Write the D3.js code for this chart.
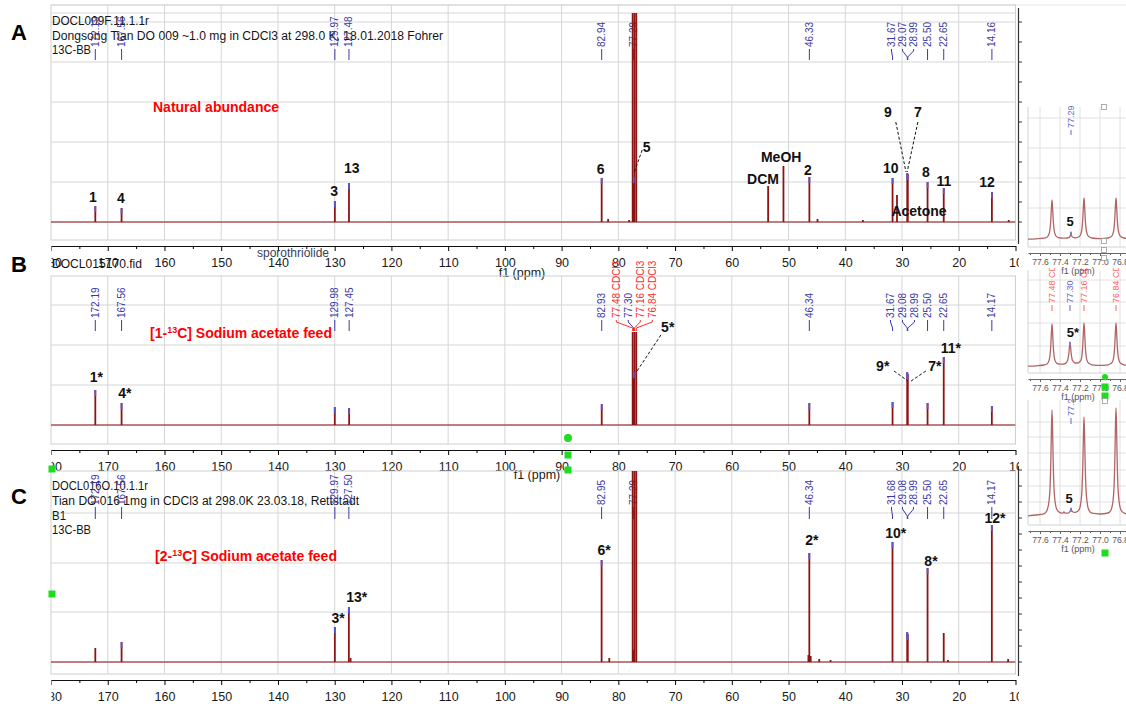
<!DOCTYPE html>
<html>
<head>
<meta charset="utf-8">
<title>13C NMR spectra of sporothriolide – acetate feeding</title>
<script src="https://cdn.jsdelivr.net/npm/d3@7/dist/d3.min.js"></script>
<style>
  body { margin: 0; background: #ffffff; }
  svg { display: block; }
  text { font-family: "Liberation Sans", Arial, sans-serif; }
</style>
</head>
<body>
<svg id="chart" width="1126" height="704"></svg>
<script>
// ===== Spectrum A: natural abundance =====
const shiftsA  = [172.19, 167.56, 129.97, 127.48, 82.94, 81.8, 78.1, 77.48, 77.29, 77.16, 76.84, 53.6, 50.9, 46.33, 44.9, 36.9, 31.67, 30.89, 29.07, 28.99, 25.50, 22.65, 14.16, 11.2];
const heightsA = [8, 7, 10.5, 19.5, 22, 1.5, 1, 130, 22.5, 130, 130, 18, 28, 22.5, 1.5, 1, 22, 13.5, 24.5, 24, 20, 17, 15, 1];
const peakLabelsA = ["172.19", "167.56", "129.97", "127.48", "82.94", "77.29", "46.33", "31.67", "29.07", "28.99", "25.50", "22.65", "14.16"];
const tipsA = [172.19, 167.56, 129.97, 127.48, 82.94, 77.29, 46.33, 31.67, 29.07, 28.99, 25.50, 22.65, 14.16];
const notesA = [["1", 172.6, 12.5], ["4", 167.7, 12], ["3", 130.1, 15.5], ["13", 127.0, 27], ["6", 83.1, 26.5],
                ["5", 75.0, 37.5], ["DCM", 54.5, 21.5], ["MeOH", 51.3, 32.5], ["2", 46.6, 26], ["9", 32.5, 55],
                ["7", 27.2, 55], ["10", 32.0, 27], ["8", 25.8, 25], ["11", 22.6, 20.5], ["12", 15.0, 20], ["Acetone", 27.0, 5.5]];
const leadersA = [[[75.8, 36], [77.25, 24.5]], [[31.1, 50], [29.3, 25]], [[27.2, 50], [29.1, 25]]];
const headerA = ["DOCL009F.11.1.1r", "Dongsong Tian DO 009 ~1.0 mg in CDCl3 at 298.0 K, 18.01.2018 Fohrer", "13C-BB"];

// ===== Spectrum B: [1-13C] acetate =====
const shiftsB  = [172.19, 167.56, 129.98, 127.45, 82.93, 77.48, 77.30, 77.16, 76.84, 46.34, 31.67, 29.08, 28.99, 25.50, 22.65, 14.17];
const heightsB = [17.5, 11, 9, 8.5, 10.5, 46.5, 26.5, 46.5, 46.5, 11, 11.5, 26.5, 25.5, 11, 34, 9.5];
const peakLabelsB = ["172.19", "167.56", "129.98", "127.45", "82.93", "77.48 CDCl3", "77.30", "77.16 CDCl3", "76.84 CDCl3",
                     "46.34", "31.67", "29.08", "28.99", "25.50", "22.65", "14.17"];
const tipsB = [172.19, 167.56, 129.98, 127.45, 82.93, 77.30, 46.34, 31.67, 29.08, 28.99, 25.50, 22.65, 14.17];
const notesB = [["1*", 172.0, 24], ["4*", 167.0, 16], ["5*", 71.3, 49], ["9*", 33.4, 29.5], ["7*", 24.2, 29.5], ["11*", 21.4, 38.5]];
const leadersB = [[[72.5, 45], [76.7, 27]], [[31.4, 27], [28.97, 22]], [[25.8, 27], [28.4, 22]]];
const headerB = ["DOCL015170.fid"];

// ===== Spectrum C: [2-13C] acetate =====
const shiftsC  = [172.19, 167.56, 129.97, 127.50, 127.2, 82.95, 81.6, 77.48, 77.29, 77.16, 76.84, 46.5, 46.34, 46.1, 44.6, 42.6, 31.68, 29.08, 28.99, 25.50, 22.65, 21.9, 14.17, 11.3];
const heightsC = [7, 10, 17.5, 27.5, 2, 51, 2, 120, 6, 120, 120, 3.5, 54.5, 3, 1.5, 1, 60, 15, 14, 47, 14.5, 1, 68.5, 1.5];
const peakLabelsC = ["172.19", "167.56", "129.97", "127.50", "82.95", "77.29", "46.34", "31.68", "29.08", "28.99", "25.50", "22.65", "14.17"];
const tipsC = [167.56, 129.97, 127.50, 82.95, 46.34, 31.68, 29.08, 28.99, 25.50, 14.17];
const notesC = [["3*", 129.4, 22], ["13*", 126.1, 32.5], ["6*", 82.5, 56], ["2*", 45.9, 61], ["10*", 31.1, 64.5], ["8*", 24.9, 50.5], ["12*", 13.6, 72]];
const headerC = ["DOCL016O.10.1.1r", "Tian DO 016 1mg in CDCl3 at 298.0K 23.03.18, Rettstadt", "B1", "13C-BB"];

// ===== CDCl3 region expansions (77.7 – 76.7 ppm) =====
const traceIA = [[77.72,0.4],[77.64,0.6],[77.56,0.9],[77.53,1.4],[77.51,3.0],[77.50,5.4],[77.492,10.2],[77.486,16],[77.48,20],[77.474,16],[77.468,10.2],[77.46,5.4],[77.45,3.0],[77.43,1.5],[77.40,1.0],[77.34,0.9],[77.31,1.3],[77.30,1.8],[77.294,2.7],[77.29,4],[77.286,2.7],[77.28,1.7],[77.26,1.2],[77.24,1.1],[77.21,1.6],[77.19,3.2],[77.18,5.8],[77.172,10.8],[77.166,17],[77.16,21],[77.154,17],[77.148,10.8],[77.14,5.8],[77.13,3.2],[77.11,1.6],[77.08,1.0],[77.00,0.7],[76.92,1.0],[76.89,1.6],[76.87,3.2],[76.86,5.8],[76.852,10.8],[76.846,17],[76.84,21],[76.834,17],[76.828,10.8],[76.82,5.8],[76.81,3.2],[76.79,1.6],[76.76,1.0],[76.74,0.8]];
const traceIB = [[77.72,0.4],[77.64,0.6],[77.56,1.0],[77.53,1.5],[77.51,3.2],[77.50,5.8],[77.492,10.9],[77.486,17.2],[77.48,21.5],[77.474,17.2],[77.468,10.9],[77.46,5.8],[77.45,3.3],[77.43,1.8],[77.40,1.4],[77.36,1.5],[77.34,2.0],[77.33,2.7],[77.32,4.1],[77.312,6.6],[77.306,10],[77.30,12.5],[77.294,10],[77.288,6.6],[77.28,4.1],[77.27,2.9],[77.25,2.0],[77.22,2.0],[77.20,2.8],[77.19,3.4],[77.18,6.0],[77.172,11.2],[77.166,17.6],[77.16,22],[77.154,17.6],[77.148,11.2],[77.14,6.0],[77.13,3.3],[77.11,1.7],[77.08,1.1],[77.00,0.8],[76.92,1.1],[76.89,1.7],[76.87,3.3],[76.86,6.0],[76.852,11.2],[76.846,17.6],[76.84,22],[76.834,17.6],[76.828,11.2],[76.82,6.0],[76.81,3.3],[76.79,1.7],[76.76,1.1],[76.74,0.9]];
const traceIC = [[77.72,0.6],[77.64,1.0],[77.56,1.6],[77.53,3.3],[77.51,7.9],[77.50,14.3],[77.492,27.2],[77.486,43.1],[77.48,53.5],[77.474,43.1],[77.468,27.2],[77.46,14.3],[77.45,8.0],[77.43,3.6],[77.40,2.2],[77.37,1.9],[77.36,2.6],[77.35,1.9],[77.32,1.9],[77.30,2.9],[77.294,3.6],[77.29,4.5],[77.286,3.6],[77.28,2.9],[77.26,2.3],[77.24,2.4],[77.21,3.6],[77.19,7.8],[77.18,13.8],[77.172,25.8],[77.166,40.6],[77.16,50],[77.154,40.6],[77.148,25.8],[77.14,13.8],[77.13,7.8],[77.11,3.3],[77.08,1.9],[77.00,1.5],[76.92,2.0],[76.89,3.5],[76.87,8.1],[76.86,14.7],[76.852,27.8],[76.846,44],[76.84,54.5],[76.834,44],[76.828,27.8],[76.82,14.7],[76.81,8.1],[76.79,3.5],[76.76,2.0],[76.74,1.6]];
const insetLabelsA = ["77.29"];
const insetLabelsB = ["77.48 CDCl3", "77.30", "77.16 CDCl3", "76.84 CDCl3"];
const insetLabelsC = ["77.29"];
const insetTipA = [77.29, 4], insetTipB = [77.30, 12.5], insetTipC = [77.29, 4.5];
const insetNoteA = ["5", 77.30, 9.5], insetNoteB = ["5*", 77.27, 17.5], insetNoteC = ["5", 77.31, 9.5];
const axisTicks = [180, 170, 160, 150, 140, 130, 120, 110, 100, 90, 80, 70, 60, 50, 40, 30, 20, 10];
const insetTicks = [77.6, 77.4, 77.2, 77.0, 76.8];

// ===== drawing =====
const svg = d3.select("#chart");
const x = d3.scaleLinear().domain([180, 10]).range([51, 1015.5]);
const xIn = d3.scaleLinear().domain([77.72, 76.74]).range([1028, 1126]);

const RED = "#8c1414", TIP = "#5757cf", BLUE = "#3a3aa6", SOLV = "#ff2b2b", GRID = "#d6d6d6";
const BOLD = "Lato, 'Open Sans', sans-serif";
const defs = svg.append("defs");
function clip(id, x0, y0, w, h) {
  defs.append("clipPath").attr("id", id).append("rect")
    .attr("x", x0).attr("y", y0).attr("width", w).attr("height", h);
  return `url(#${id})`;
}

// push crowded labels apart, keeping each group centred on its peaks
function spread(xs, gap) {
  const order = xs.map((v, i) => i).sort((a, b) => xs[a] - xs[b]);
  const groups = [];
  order.forEach(i => {
    groups.push({ m: [i], c: xs[i] });
    while (groups.length > 1) {
      const g2 = groups[groups.length - 1], g1 = groups[groups.length - 2];
      const end1 = g1.c + (g1.m.length - 1) * gap / 2;
      const start2 = g2.c - (g2.m.length - 1) * gap / 2;
      if (start2 - end1 < gap) {
        const m = g1.m.concat(g2.m);
        groups.splice(groups.length - 2, 2, { m, c: d3.mean(m, j => xs[j]) });
      } else break;
    }
  });
  const out = [];
  groups.forEach(g => g.m.forEach((j, k) => { out[j] = g.c + (k - (g.m.length - 1) / 2) * gap; }));
  return out;
}

function peakLabels(g, labels, xf, p, size, blue, solv) {
  const px = labels.map(t => xf(parseFloat(t)));
  const lx = spread(px, p.gap);
  labels.forEach((t, i) => {
    const col = t.includes("CDCl3") ? solv : blue;
    g.append("text")
      .attr("transform", `translate(${lx[i]},${p.labelBottom}) rotate(-90)`)
      .attr("dy", "0.35em").attr("font-size", size).attr("fill", col).text(t);
    g.append("path")
      .attr("d", `M${lx[i]},${p.labelBottom + 2}V${p.labelBottom + 4}L${px[i]},${p.tickEnd - 3}V${p.tickEnd}`)
      .attr("fill", "none").attr("stroke", col).attr("stroke-width", 1);
  });
}

function boldNote(g, t, xx, yy, size) {
  g.append("text").attr("x", xx).attr("y", yy).attr("dy", "0.35em")
    .attr("text-anchor", "middle").attr("font-family", BOLD).attr("font-weight", 700)
    .attr("font-size", size).attr("fill", "#111").text(t);
}

function drawPanel(p) {
  const g = svg.append("g");
  const y = d3.scaleLinear().domain([0, p.yMax]).range([p.base, p.clipTop]);
  const x0 = x(180), x1 = x(10);

  // frame and grid
  g.append("rect").attr("x", x0).attr("y", p.frameTop).attr("width", x1 - x0).attr("height", p.bottom - p.frameTop)
    .attr("fill", "none").attr("stroke", "#cfcfcf");
  g.append("g").selectAll("line").data(d3.range(170, 10, -10)).join("line")
    .attr("x1", d => x(d)).attr("x2", d => x(d)).attr("y1", p.frameTop).attr("y2", p.bottom)
    .attr("stroke", GRID);
  g.append("g").selectAll("line").data(p.grid).join("line")
    .attr("x1", x0).attr("x2", x1).attr("y1", d => d).attr("y2", d => d).attr("stroke", GRID);

  // header text
  p.header.forEach((t, i) => {
    g.append("text").attr("x", 52).attr("y", p.headerY[i]).attr("font-size", 12.5).attr("fill", "#151515")
      .attr("textLength", p.headerW[i]).attr("lengthAdjust", "spacingAndGlyphs").text(t);
  });

  // peak-pick labels
  peakLabels(g.append("g"), p.labels, x, p, 10, BLUE, SOLV);

  // spectrum
  const sg = g.append("g").attr("clip-path", clip(p.id + "clip", x0, p.clipTop, x1 - x0, p.bottom - p.clipTop));
  sg.append("line").attr("x1", x0).attr("x2", x1).attr("y1", y(0)).attr("y2", y(0))
    .attr("stroke", RED).attr("stroke-width", 1.1);
  sg.append("g").selectAll("line").data(d3.zip(p.shifts, p.heights)).join("line")
    .attr("x1", d => x(d[0])).attr("x2", d => x(d[0])).attr("y1", y(0)).attr("y2", d => y(d[1]))
    .attr("stroke", RED).attr("stroke-width", 1.8);
  sg.append("g").selectAll("line").data(p.tips.map(s => [s, p.heights[p.shifts.indexOf(s)]])).join("line")
    .attr("x1", d => x(d[0])).attr("x2", d => x(d[0])).attr("y1", d => y(d[1])).attr("y2", d => y(d[1]) + 6)
    .attr("stroke", TIP).attr("stroke-width", 1.8);

  // assignments
  p.notes.forEach(n => boldNote(g, n[0], x(n[1]), y(n[2]), 14));
  p.leaders.forEach(l => {
    g.append("line").attr("x1", x(l[0][0])).attr("y1", y(l[0][1])).attr("x2", x(l[1][0])).attr("y2", y(l[1][1]))
      .attr("stroke", "#111").attr("stroke-width", 1).attr("stroke-dasharray", "3,2");
  });

  // ppm axis (end labels are cut by the plot edges)
  const ac = g.append("g").attr("clip-path", clip(p.id + "axclip", 51.5, p.axis - 10, 967.5, 40));
  const ax = ac.append("g").attr("transform", `translate(0,${p.axis})`)
    .call(d3.axisBottom(x).tickValues(axisTicks).tickSize(5).tickSizeOuter(0).tickFormat(d3.format("d")));
  ax.attr("font-family", "'Liberation Sans', Arial, sans-serif").attr("font-size", 12.5);
  ax.selectAll("text").attr("y", 12).attr("fill", "#1a1a1a");
  ax.select(".domain").attr("stroke", "#111");
  const mn = ac.append("g").attr("transform", `translate(0,${p.axis})`)
    .call(d3.axisBottom(x).tickValues(d3.range(175, 10, -10)).tickSize(3).tickFormat(""));
  mn.select(".domain").remove();
  if (p.f1) {
    g.append("text").attr("x", p.f1[0]).attr("y", p.f1[1]).attr("text-anchor", "middle")
      .attr("font-size", 12.5).attr("fill", "#1a1a1a").text("f1 (ppm)");
  }

  // intensity axis on the right edge
  if (p.rightAxis) {
    g.append("line").attr("x1", 1018.5).attr("x2", 1018.5).attr("y1", p.rightAxis[0]).attr("y2", p.rightAxis[1])
      .attr("stroke", "#333").attr("stroke-width", 1.2);
    g.append("g").selectAll("line").data(d3.range(p.base, p.rightAxis[0], -p.rightAxis[2])).join("line")
      .attr("x1", 1018.5).attr("x2", 1022).attr("y1", d => d).attr("y2", d => d).attr("stroke", "#333");
  }

  // panel letter
  g.append("text").attr("x", 19).attr("y", p.letterY).attr("text-anchor", "middle")
    .attr("font-weight", 700).attr("font-size", 22).attr("fill", "#000").text(p.letter);
  return g;
}

function titleText(g, xx, yy, parts) {
  const t = g.append("text").attr("x", xx).attr("y", yy).attr("dy", "0.35em")
    .attr("font-family", BOLD).attr("font-weight", 700).attr("font-size", 14).attr("fill", "#ff0000");
  if (parts.length === 1) { t.text(parts[0]); return; }
  t.append("tspan").text(parts[0]);
  t.append("tspan").attr("font-size", 9).attr("dy", -5).text(parts[1]);
  t.append("tspan").attr("dy", 5).text(parts[2]);
}

// faint border above the first panel
svg.append("line").attr("x1", 51).attr("x2", 1126).attr("y1", 5).attr("y2", 5).attr("stroke", "#e6e6e6");

const gA = drawPanel({
  id: "A", letter: "A", letterY: 40, frameTop: 5, clipTop: 13, base: 222, bottom: 240, axis: 246, yMax: 104.5,
  grid: [13, 22, 62, 102, 142, 182, 222], labelBottom: 47, tickEnd: 60, gap: 11,
  header: headerA, headerY: [25, 39.5, 54], headerW: [97, 391, 39],
  labels: peakLabelsA, shifts: shiftsA, heights: heightsA, tips: tipsA, notes: notesA, leaders: leadersA,
  f1: [522, 277], rightAxis: [8, 244, 20]
});
titleText(gA, 153, 107, ["Natural abundance"]);
gA.append("text").attr("x", 293).attr("y", 256.5).attr("text-anchor", "middle").attr("font-size", 12)
  .attr("fill", "#39415a").text("sporothriolide");

const gB = drawPanel({
  id: "B", letter: "B", letterY: 272, frameTop: 276, clipTop: 276, base: 425, bottom: 444, axis: 450, yMax: 74.5,
  grid: [305, 345, 385, 425], labelBottom: 318, tickEnd: 331, gap: 12,
  header: headerB, headerY: [267.5], headerW: [90],
  labels: peakLabelsB, shifts: shiftsB, heights: heightsB, tips: tipsB, notes: notesB, leaders: leadersB,
  f1: [537, 479], rightAxis: null
});
titleText(gB, 150, 333, ["[1-", "13", "C] Sodium acetate feed"]);

const gC = drawPanel({
  id: "C", letter: "C", letterY: 504, frameTop: 471, clipTop: 471, base: 662, bottom: 674, axis: 680, yMax: 95.5,
  grid: [513, 563, 612, 662], labelBottom: 505, tickEnd: 519, gap: 11,
  header: headerC, headerY: [490, 505, 520, 534], headerW: [96, 307, 14, 39],
  labels: peakLabelsC, shifts: shiftsC, heights: heightsC, tips: tipsC, notes: notesC, leaders: [],
  f1: null, rightAxis: [466, 676, 16]
});
titleText(gC, 155, 556, ["[2-", "13", "C] Sodium acetate feed"]);

// ===== expansions of the CDCl3 triplet =====
function drawInset(q) {
  const g = svg.append("g").attr("clip-path", clip(q.id, 1027, q.clip[0], 100, q.clip[1] - q.clip[0]));
  const y = d3.scaleLinear().domain([0, q.yMax]).range([q.base, q.top]);
  g.append("g").selectAll("line").data(insetTicks).join("line")
    .attr("x1", d => xIn(d)).attr("x2", d => xIn(d)).attr("y1", q.top).attr("y2", q.bottom).attr("stroke", "#e0e0e0");
  g.append("g").selectAll("line").data(q.grid).join("line")
    .attr("x1", 1028).attr("x2", 1126).attr("y1", d => d).attr("y2", d => d).attr("stroke", "#e0e0e0");
  g.append("line").attr("x1", 1028).attr("x2", 1028).attr("y1", q.top).attr("y2", q.bottom).attr("stroke", "#d2d2d2");
  g.append("line").attr("x1", 1028).attr("x2", 1126).attr("y1", q.bottom).attr("y2", q.bottom).attr("stroke", "#d2d2d2");

  peakLabels(g.append("g"), q.labels, xIn, q, 9, "#6767c4", "#ff6464");

  g.append("path").datum(q.trace)
    .attr("d", d3.line().x(d => xIn(d[0])).y(d => y(d[1])).curve(d3.curveMonotoneX))
    .attr("fill", "none").attr("stroke", "#b36464").attr("stroke-width", 1.3);
  g.append("line").attr("x1", xIn(q.tip[0])).attr("x2", xIn(q.tip[0]))
    .attr("y1", y(q.tip[1])).attr("y2", y(q.tip[1]) + 4).attr("stroke", "#7a7ad6").attr("stroke-width", 1.5);
  boldNote(g, q.note[0], xIn(q.note[1]), y(q.note[2]), 13);

  const ax = g.append("g").attr("transform", `translate(0,${q.axis})`)
    .call(d3.axisBottom(xIn).tickValues(insetTicks).tickSize(3).tickSizeOuter(0).tickFormat(d3.format(".1f")));
  ax.attr("font-family", "'Liberation Sans', Arial, sans-serif").attr("font-size", 8.5);
  ax.selectAll("text").attr("y", 6).attr("fill", "#555");
  ax.selectAll("line").attr("stroke", "#666");
  ax.select(".domain").attr("stroke", "#666");
  const mn = g.append("g").attr("transform", `translate(0,${q.axis})`)
    .call(d3.axisBottom(xIn).tickValues([77.7, 77.5, 77.3, 77.1, 76.9]).tickSize(2).tickFormat(""));
  mn.select(".domain").remove();
  mn.selectAll("line").attr("stroke", "#666");
  g.append("text").attr("x", 1078).attr("y", q.axis + 21).attr("text-anchor", "middle")
    .attr("font-size", 9).attr("fill", "#555").text("f1 (ppm)");
}

drawInset({ id: "insC", clip: [399, 561], top: 400, base: 517, bottom: 525, axis: 531, yMax: 58.5,
  grid: [422, 437, 453, 470, 486, 502], labelBottom: 416, tickEnd: 424, gap: 10,
  labels: insetLabelsC, trace: traceIC, tip: insetTipC, note: insetNoteC });
drawInset({ id: "insB", clip: [268, 404], top: 270, base: 367, bottom: 373, axis: 379, yMax: 48.5,
  grid: [280, 302, 323, 346], labelBottom: 303, tickEnd: 311, gap: 10,
  labels: insetLabelsB, trace: traceIB, tip: insetTipB, note: insetNoteB });
drawInset({ id: "insA", clip: [100, 281], top: 107, base: 240, bottom: 247, axis: 253, yMax: 66.5,
  grid: [118, 148, 178, 208], labelBottom: 128, tickEnd: 135, gap: 10,
  labels: insetLabelsA, trace: traceIA, tip: insetTipA, note: insetNoteA });

// ===== editor handles =====
const handles = svg.append("g");
[[568, 455], [568, 470], [52, 469], [52, 594], [1105, 387], [1105, 396], [1105, 553]].forEach(d => {
  handles.append("rect").attr("x", d[0] - 3.5).attr("y", d[1] - 3.5).attr("width", 7).attr("height", 7).attr("fill", "#1fdc1f");
});
handles.append("circle").attr("cx", 568).attr("cy", 438).attr("r", 4).attr("fill", "#1fdc1f");
handles.append("circle").attr("cx", 1105).attr("cy", 377).attr("r", 3).attr("fill", "#1fdc1f");
[[1104, 107], [1104, 241], [1104, 250], [1104, 258], [1105, 401]].forEach(d => {
  handles.append("rect").attr("x", d[0] - 2.5).attr("y", d[1] - 2.5).attr("width", 5).attr("height", 5)
    .attr("fill", "#fff").attr("stroke", "#9a9a9a").attr("stroke-width", 0.8);
});
</script>
</body>
</html>
